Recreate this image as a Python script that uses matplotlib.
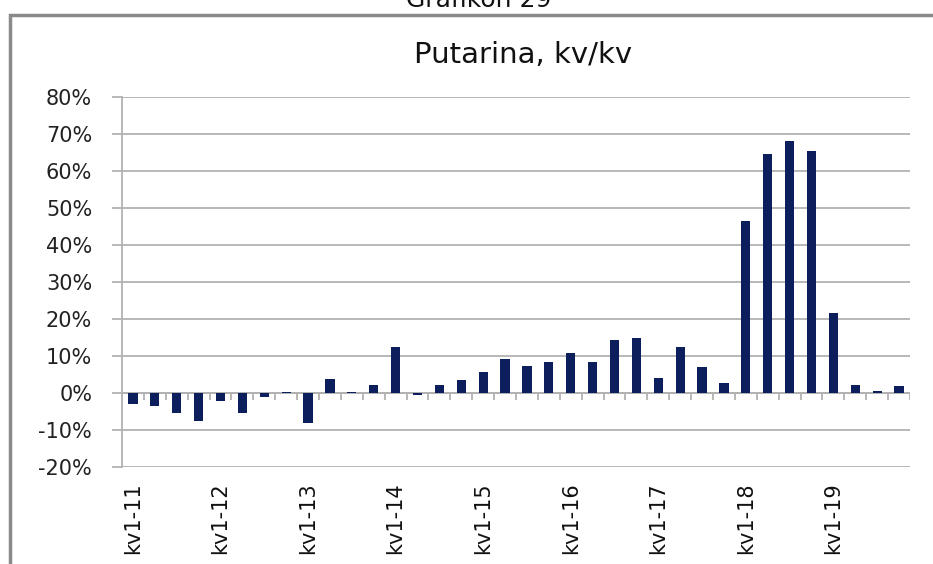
import matplotlib
matplotlib.use('Agg')
import matplotlib.pyplot as plt
import numpy as np
from matplotlib.patches import Rectangle

# Quarterly y/y change (%), kv1-11 ... kv4-19
values = [-3.1, -3.4, -5.3, -7.7,
          -2.2, -5.3, -1.2, 0.4,
          -8.0, 3.7, 0.4, 2.2,
          12.3, -0.5, 2.2, 3.4,
          5.7, 9.2, 7.4, 8.4,
          10.7, 8.4, 14.2, 15.0,
          4.1, 12.3, 7.1, 2.6,
          46.4, 64.5, 68.0, 65.5,
          21.7, 2.2, 0.6, 1.8]
year_labels = ['kv1-11', 'kv1-12', 'kv1-13', 'kv1-14', 'kv1-15',
               'kv1-16', 'kv1-17', 'kv1-18', 'kv1-19']
y_ticks = [-20, -10, 0, 10, 20, 30, 40, 50, 60, 70, 80]
y_ticklabels = [f'{v}%' for v in y_ticks]

title = 'Putarina, kv/kv'
header = 'Grafikon 29'

plt.rcParams['font.family'] = ['DejaVu Sans']
W, H = 933, 564
fig = plt.figure(figsize=(W / 100, H / 100), dpi=100)

# outer frame (right and bottom sides run off the picture)
fig.patches.append(Rectangle((10 / W, -0.2), 2.0, 1 - 15 / H + 0.2,
                             transform=fig.transFigure, fill=False,
                             edgecolor='#8a8a8a', lw=2.5, clip_on=False))
fig.text(479 / W, 1 - 7 / H, header, ha='center', va='baseline', fontsize=18, color='#111111')

ax = fig.add_axes([122 / W, (H - 467) / H, (910 - 122) / W, (467 - 97) / H])
x = np.arange(len(values))
grid_c = '#b2b2b2'

ax.bar(x, values, width=0.42, color='#0c1f5c', zorder=3)

ax.set_xlim(-0.5, len(values) - 0.5)
ax.set_ylim(-20, 80)
ax.set_yticks(y_ticks)
ax.set_yticklabels(y_ticklabels, fontsize=15, color='#222222')
ax.yaxis.grid(True, color=grid_c, lw=1.3, zorder=0)
ax.tick_params(axis='y', length=7.5, width=1.3, color=grid_c, pad=14)

# zero line with category boundary ticks
ax.axhline(0, color=grid_c, lw=1.3, zorder=2)
bounds = np.arange(len(values) + 1) - 0.5
ax.vlines(bounds, -1.9, 0, color=grid_c, lw=1.3, zorder=2)

ax.set_xticks(x[::4])
ax.set_xticklabels(year_labels, rotation=90, fontsize=15, color='#111111', va='top')
ax.tick_params(axis='x', length=0, pad=11)

for s in ['top', 'right', 'bottom']:
    ax.spines[s].set_visible(False)
ax.spines['left'].set_color(grid_c)
ax.spines['left'].set_linewidth(1.3)

fig.text(523 / W, 1 - 55 / H, title, ha='center', va='center', fontsize=21, color='#111111')

fig.savefig('out.png', dpi=100)
